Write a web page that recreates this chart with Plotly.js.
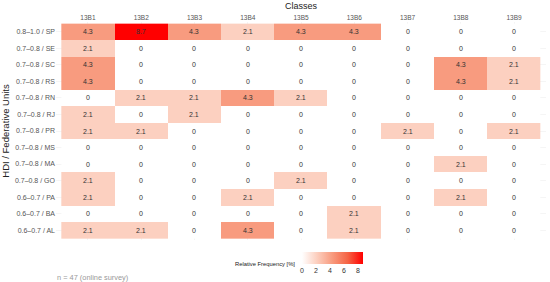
<!DOCTYPE html>
<html>
<head>
<meta charset="utf-8">
<script src="https://cdn.plot.ly/plotly-3.0.1.min.js"></script>
<style>html,body{margin:0;padding:0;background:#fff;}#chart{width:550px;height:282px;}</style>
</head>
<body>
<div id="chart"></div>
<script>
const classes = ["13B1","13B2","13B3","13B4","13B5","13B6","13B7","13B8","13B9"];
const units = ["0.8–1.0 / SP","0.7–0.8 / SE","0.7–0.8 / SC","0.7–0.8 / RS","0.7–0.8 / RN","0.7–0.8 / RJ","0.7–0.8 / PR","0.7–0.8 / MS","0.7–0.8 / MA","0.7–0.8 / GO","0.6–0.7 / PA","0.6–0.7 / BA","0.6–0.7 / AL"];
const rowSP = [4.3, 8.7, 4.3, 2.1, 4.3, 4.3, 0, 0, 0];
const rowSE = [2.1, 0, 0, 0, 0, 0, 0, 0, 0];
const rowSC = [4.3, 0, 0, 0, 0, 0, 0, 4.3, 2.1];
const rowRS = [4.3, 0, 0, 0, 0, 0, 0, 4.3, 2.1];
const rowRN = [0, 2.1, 2.1, 4.3, 2.1, 0, 0, 0, 0];
const rowRJ = [2.1, 0, 2.1, 0, 0, 0, 0, 0, 0];
const rowPR = [2.1, 2.1, 0, 0, 0, 0, 2.1, 0, 2.1];
const rowMS = [0, 0, 0, 0, 0, 0, 0, 0, 0];
const rowMA = [0, 0, 0, 0, 0, 0, 0, 2.1, 0];
const rowGO = [2.1, 0, 0, 0, 2.1, 0, 0, 0, 0];
const rowPA = [2.1, 0, 0, 2.1, 0, 0, 0, 2.1, 0];
const rowBA = [0, 0, 0, 0, 0, 2.1, 0, 0, 0];
const rowAL = [2.1, 2.1, 0, 4.3, 0, 2.1, 0, 0, 0];
const colorbarTicks = [0, 2, 4, 6, 8];

const z = [rowSP,rowSE,rowSC,rowRS,rowRN,rowRJ,rowPR,rowMS,rowMA,rowGO,rowPA,rowBA,rowAL];
const font = "Liberation Sans, Arial, sans-serif";

const trace = {
  type: "heatmap",
  x: classes,
  y: units,
  z: z,
  zmin: 0, zmax: 8.7,
  colorscale: [[0,"#FFFFFF"],[0.24,"#FCD0C0"],[0.49,"#F89C80"],[0.75,"#F56445"],[1,"#FF0000"]],
  colorbar: {
    orientation: "h",
    lenmode: "pixels", len: 61,
    thicknessmode: "pixels", thickness: 12,
    x: 0.502, xanchor: "left",
    y: -0.056, yanchor: "top",
    xpad: 0, ypad: 0,
    outlinewidth: 0,
    tickvals: colorbarTicks,
    ticks: "",
    ticklen: 0,
    tickfont: {family: font, size: 7, color: "#333333"}
  }
};

const cellText = [];
z.forEach((row, i) => row.forEach((v, j) => {
  cellText.push({
    x: classes[j], y: units[i], xref: "x", yref: "y",
    text: String(v), showarrow: false,
    font: {family: font, size: 7, color: "#333333"}
  });
}));

const layout = {
  width: 550, height: 282,
  margin: {l: 56, r: 4, t: 22, b: 42},
  paper_bgcolor: "#ffffff",
  plot_bgcolor: "#ffffff",
  font: {family: font},
  xaxis: {
    side: "top",
    range: [-0.6, 8.6],
    showgrid: true, gridcolor: "#EBEBEB", gridwidth: 0.5,
    zeroline: false, showline: false,
    ticks: "",
    ticklabelstandoff: 0,
    tickfont: {family: font, size: 6.5, color: "#555555"},
    title: {text: "Classes", font: {family: font, size: 9, color: "#222222"}, standoff: 2}
  },
  yaxis: {
    range: [12.6, -0.6],
    showgrid: true, gridcolor: "#EBEBEB", gridwidth: 0.5,
    zeroline: false, showline: false,
    ticks: "",
    tickfont: {family: font, size: 7, color: "#555555"},
    title: {text: "HDI / Federative Units", font: {family: font, size: 9.5, color: "#222222"}, standoff: 4}
  },
  annotations: cellText.concat([
    {text: "Relative Frequency [%]", xref: "paper", yref: "paper", x: 0.492, y: -0.112,
     xanchor: "right", yanchor: "middle", showarrow: false,
     font: {family: font, size: 5.8, color: "#222222"}},
    {text: "n = 47 (online survey)", xref: "paper", yref: "paper", x: -0.002, y: -0.17,
     xanchor: "left", yanchor: "middle", showarrow: false,
     font: {family: font, size: 7.4, color: "#999999"}}
  ])
};

Plotly.newPlot("chart", [trace], layout, {staticPlot: true, displayModeBar: false});
</script>
</body>
</html>
